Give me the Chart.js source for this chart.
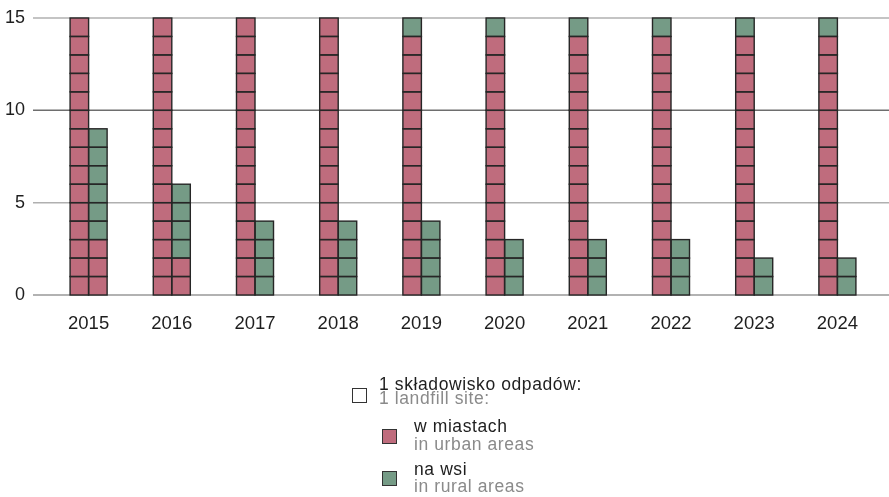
<!DOCTYPE html>
<html>
<head>
<meta charset="utf-8">
<script src="https://cdn.jsdelivr.net/npm/chart.js@4.4.1/dist/chart.umd.min.js"></script>
<style>
  body { margin: 0; background: #fff; font-family: "Liberation Sans", Arial, sans-serif; }
  #wrap { position: relative; width: 889px; height: 497px; }
  .sq { position: absolute; width: 15px; height: 15px; box-sizing: border-box; border: 1px solid #333; }
  .t { position: absolute; font-size: 17.5px; line-height: 17px; letter-spacing: 0.6px; white-space: nowrap; color: #1e1e1e; }
  .t.en { color: #8a8a8a; }
</style>
</head>
<body>
<div id="wrap">
  <canvas id="myBarChart" width="889" height="497"></canvas>

  <div class="sq" style="left:352px; top:388px; background:#fff;"></div>
  <div class="t" style="left:379px; top:376px;">1 składowisko odpadów:</div>
  <div class="t en" style="left:379px; top:390px;">1 landfill site:</div>

  <div class="sq" style="left:382px; top:429px; background:#bf6c7d;"></div>
  <div class="t" style="left:414px; top:418px;">w miastach</div>
  <div class="t en" style="left:414px; top:436px;">in urban areas</div>

  <div class="sq" style="left:382px; top:471px; background:#759b86;"></div>
  <div class="t" style="left:414px; top:461px;">na wsi</div>
  <div class="t en" style="left:414px; top:478px;">in rural areas</div>
</div>
<script>
    // data
    const years = ['2015', '2016', '2017', '2018', '2019', '2020', '2021', '2022', '2023', '2024'];
    const urban = [18, 17, 15, 15, 14, 14, 14, 14, 14, 14];
    const rural = [6, 4, 4, 4, 5, 4, 4, 4, 3, 3];
    const yTicks = [0, 5, 10, 15];
    const columnHeight = 15;

    const PINK = '#bf6c7d';
    const GREEN = '#759b86';

    // split each year into two columns of unit squares: first column filled up to 15, rest in the second
    const cols = {
      L: years.map((y, k) => {
        const p = Math.min(urban[k], columnHeight);
        const g = Math.min(rural[k], columnHeight - p);
        return { pink: p, green: g };
      }),
      R: years.map((y, k) => {
        const pl = Math.min(urban[k], columnHeight);
        const gl = Math.min(rural[k], columnHeight - pl);
        return { pink: urban[k] - pl, green: rural[k] - gl };
      })
    };

    const datasets = [];
    ['L', 'R'].forEach(stack => {
      for (let i = 0; i < columnHeight; i++) {
        datasets.push({
          stack: stack,
          data: cols[stack].map(c => (i < c.pink + c.green ? 1 : null)),
          backgroundColor: cols[stack].map(c => (i < c.pink ? PINK : GREEN)),
          borderWidth: 0
        });
      }
    });

    // horizontal lines run wider than the plot area
    const gridColors = { 0: '#999999', 5: '#b0b0b0', 10: '#6e6e6e', 15: '#b0b0b0' };
    const gridLines = {
      id: 'gridLines',
      beforeDatasetsDraw(chart) {
        const ctx = chart.ctx;
        const y = chart.scales.y;
        ctx.save();
        ctx.lineWidth = 1.5;
        yTicks.forEach(v => {
          const py = y.getPixelForValue(v);
          ctx.strokeStyle = gridColors[v];
          ctx.beginPath();
          ctx.moveTo(33, py);
          ctx.lineTo(889, py);
          ctx.stroke();
        });
        ctx.restore();
      }
    };

    // dark outline round every unit square
    const unitOutline = {
      id: 'unitOutline',
      afterDatasetsDraw(chart) {
        const ctx = chart.ctx;
        ctx.save();
        ctx.strokeStyle = '#262626';
        ctx.lineWidth = 1.4;
        chart.data.datasets.forEach((ds, i) => {
          chart.getDatasetMeta(i).data.forEach((bar, k) => {
            if (ds.data[k] == null) return;
            const w = bar.width;
            ctx.strokeRect(bar.x - w / 2, bar.y, w, bar.base - bar.y);
          });
        });
        ctx.restore();
      }
    };

    // config
    const config = {
      type: 'bar',
      data: { labels: years, datasets },
      options: {
        responsive: false,
        animation: false,
        categoryPercentage: 0.445,
        barPercentage: 1,
        layout: { padding: { left: 0, right: 10, top: 18, bottom: 162 } },
        plugins: { legend: { display: false }, tooltip: { enabled: false } },
        scales: {
          x: {
            stacked: true,
            grid: { display: false, drawTicks: false },
            border: { display: false },
            ticks: { color: '#1e1e1e', padding: 18, font: { family: 'Liberation Sans', size: 18.5 } },
            afterFit(scale) {
              scale.height = 40;
              scale.paddingLeft = 0;
              scale.paddingRight = 0;
            }
          },
          y: {
            stacked: true,
            min: 0,
            max: 15,
            grid: { display: false, drawTicks: false },
            border: { display: false },
            ticks: { stepSize: 5, color: '#1e1e1e', padding: 22, font: { family: 'Liberation Sans', size: 18 } },
            afterFit(scale) {
              scale.width = 47;
              scale.paddingTop = 0;
              scale.paddingBottom = 0;
            }
          }
        }
      },
      plugins: [gridLines, unitOutline]
    };

    // render init block
    const myChart = new Chart(document.getElementById('myBarChart'), config);
</script>
</body>
</html>
